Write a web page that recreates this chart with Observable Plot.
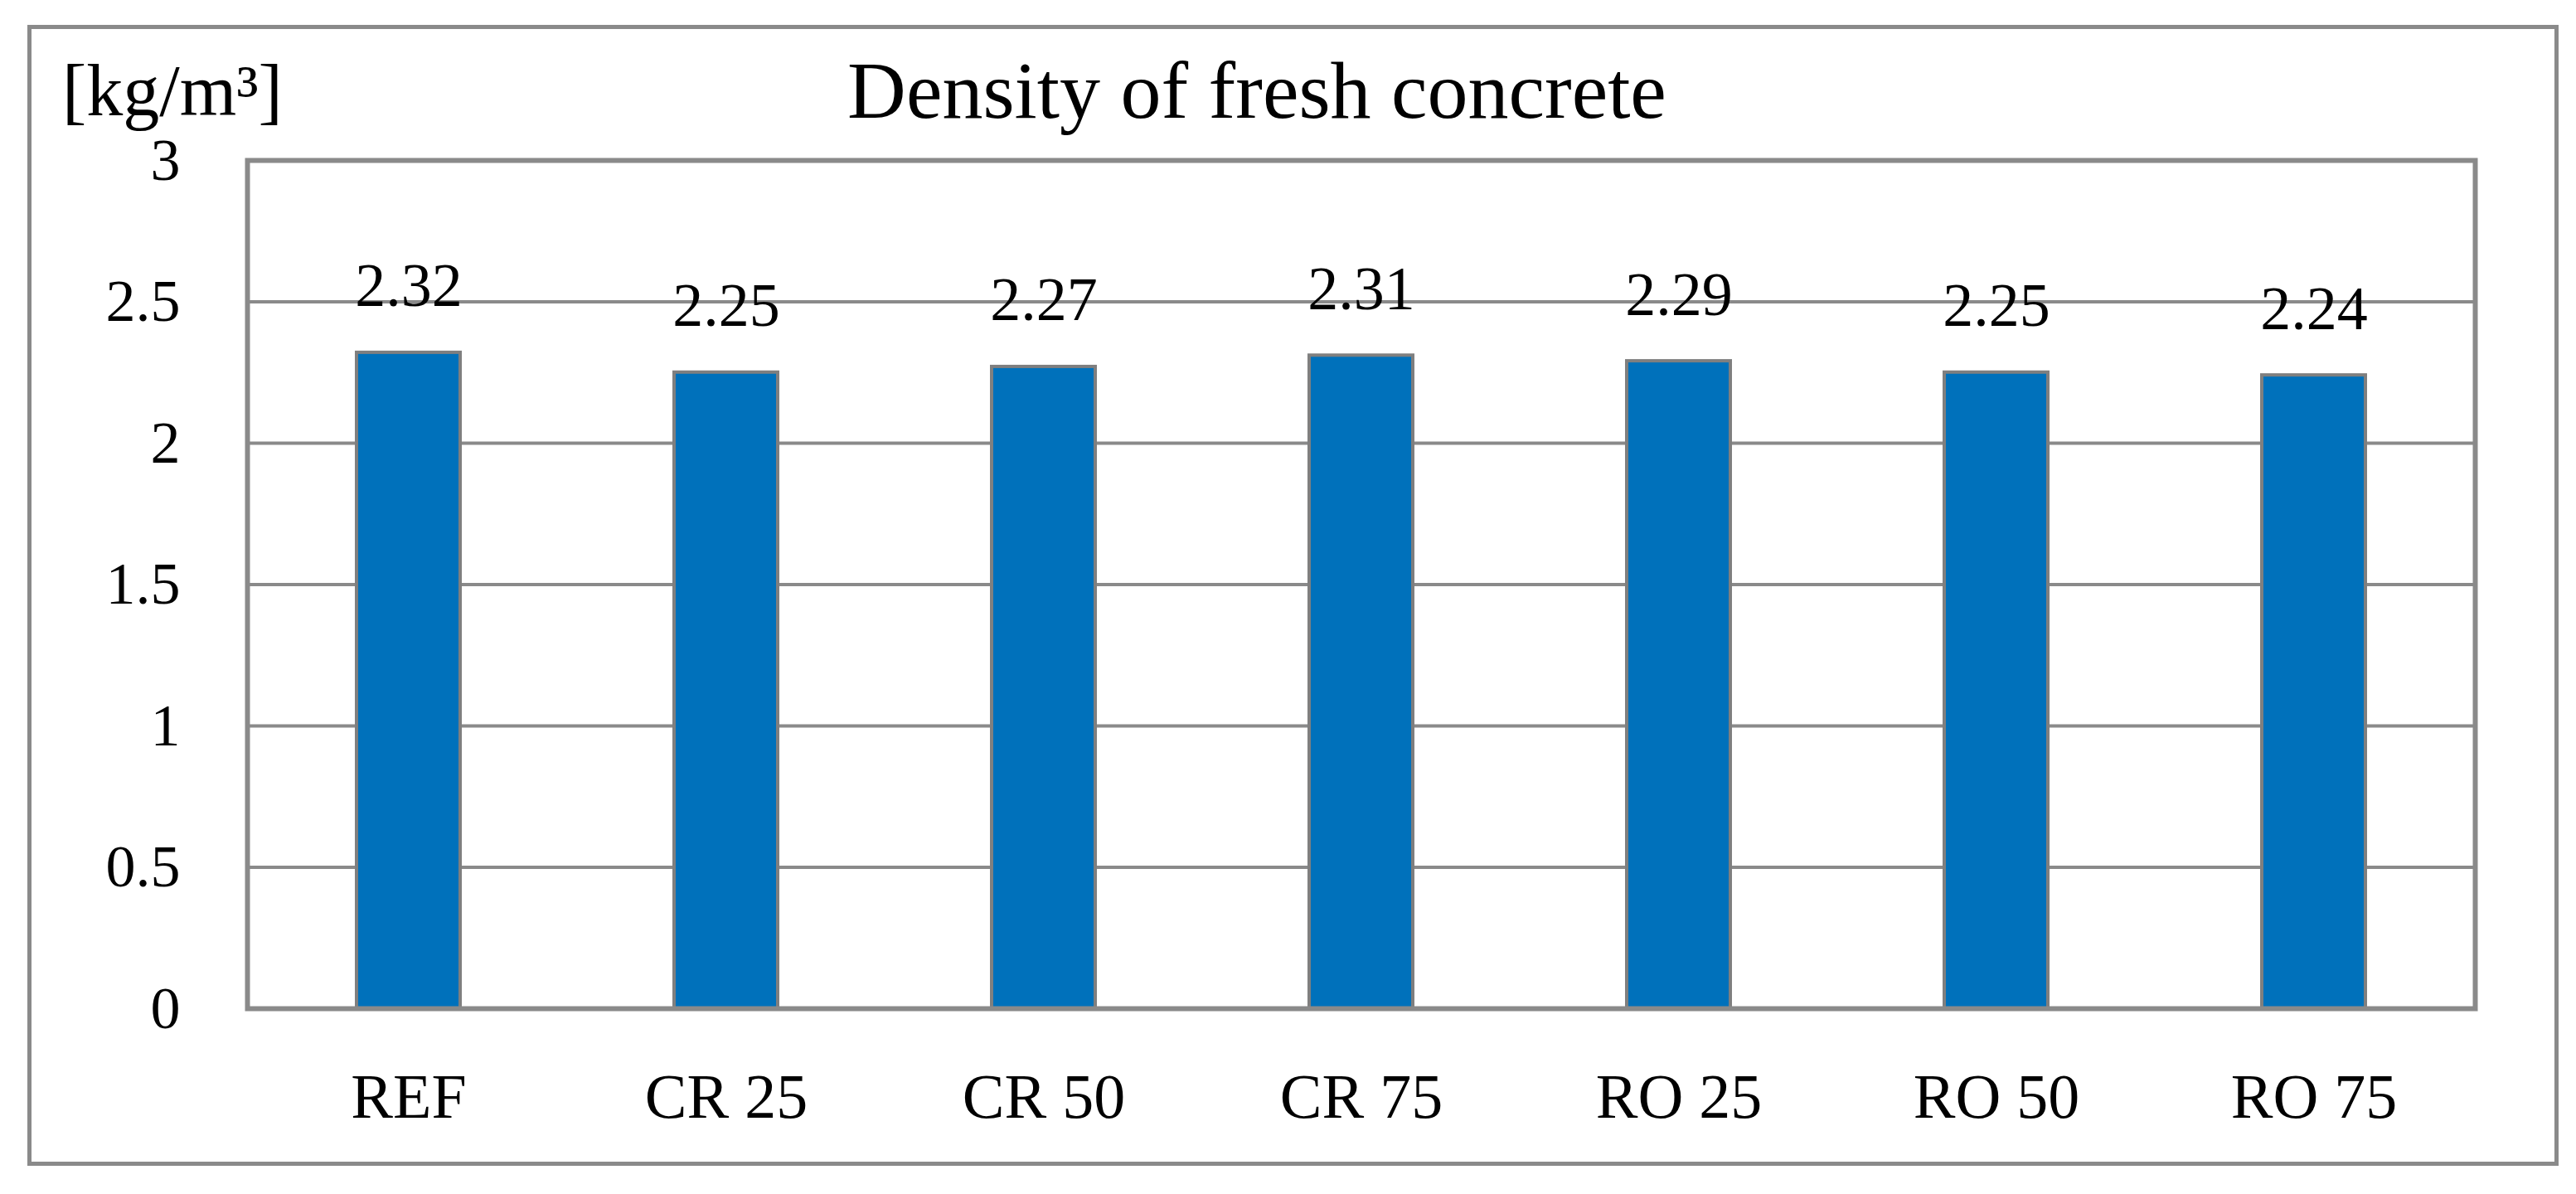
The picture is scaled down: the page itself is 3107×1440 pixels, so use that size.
<!DOCTYPE html>
<html>
<head>
<meta charset="utf-8">
<script src="https://cdn.jsdelivr.net/npm/d3@7"></script>
<script src="https://cdn.jsdelivr.net/npm/@observablehq/plot@0.6"></script>
<style>
  html, body { margin: 0; padding: 0; background: #fff; }
  #wrap { position: relative; width: 3107px; height: 1440px; overflow: hidden; }
  #frame { position: absolute; left: 33px; top: 30px; width: 3043px; height: 1366px; border: 5px solid #8a8a8a; }
  #title { position: absolute; left: 1516px; transform: translateX(-50%); white-space: nowrap; top: 60px; font-family: "Liberation Serif", serif; font-size: 98px; color: #000; line-height: 1; }
  #unit { position: absolute; left: 75px; top: 66px; white-space: nowrap; font-family: "Liberation Serif", serif; font-size: 88px; color: #000; line-height: 1; }
  #chart { position: absolute; left: 0; top: 0; }
</style>
</head>
<body>
<div id="wrap">
  <div id="frame"></div>
  <div id="chart"></div>
  <div id="title">Density of fresh concrete</div>
  <div id="unit">[kg/m³]</div>
</div>
<script>
const categories = ["REF", "CR 25", "CR 50", "CR 75", "RO 25", "RO 50", "RO 75"];
const density = [2.32, 2.25, 2.27, 2.31, 2.29, 2.25, 2.24];
const yTicks = [0, 0.5, 1, 1.5, 2, 2.5, 3];

const data = categories.map((c, i) => ({category: c, value: density[i]}));

const chart = Plot.plot({
  width: 3107,
  height: 1440,
  marginLeft: 298,
  marginRight: 122,
  marginTop: 193,
  marginBottom: 224,
  style: {fontFamily: "Liberation Serif, serif", fontSize: "75px", color: "#000", background: "transparent"},
  x: {domain: categories, paddingInner: 0.674, paddingOuter: 0.337, label: null},
  y: {domain: [0, 3], label: null},
  marks: [
    Plot.gridY(yTicks, {stroke: "#8a8a8a", strokeOpacity: 1, strokeWidth: 4}),
    Plot.axisY(yTicks, {tickSize: 0, tickPadding: 81, fontSize: 72, tickFormat: d => String(d), label: null}),
    Plot.axisX({tickSize: 0, tickPadding: 78, fontSize: 76, label: null}),
    Plot.barY(data, {x: "category", y: "value", fill: "#0071bb", stroke: "#7f7f7f", strokeWidth: 4}),
    Plot.text(data, {x: "category", y: "value", text: d => d.value.toFixed(2), lineAnchor: "bottom", dy: -56, fontSize: 74, fill: "#000"}),
    Plot.frame({stroke: "#8a8a8a", strokeWidth: 6})
  ]
});
document.getElementById("chart").appendChild(chart);
</script>
</body>
</html>
